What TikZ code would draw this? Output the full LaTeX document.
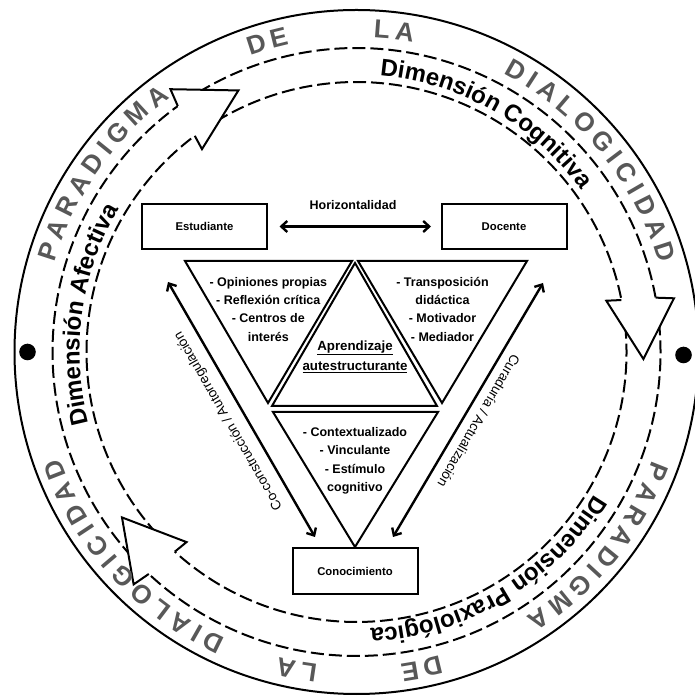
\documentclass[tikz,border=0pt]{standalone}
\usepackage{fontspec}
\setmainfont{Liberation Sans}
\usetikzlibrary{arrows.meta,decorations.text}
\definecolor{dgray}{RGB}{88,88,88}
\newcommand\dimfont{\bfseries\fontsize{24}{28}\selectfont}
\newcommand\grayfont{\bfseries\fontsize{26}{30}\selectfont}
\newcommand\boxfont{\bfseries\fontsize{11.3}{13.5}\selectfont}
\newcommand\trifont{\bfseries\fontsize{12.5}{18.3}\selectfont}
\newcommand\midfont{\bfseries\fontsize{13.3}{20}\selectfont}
\newcommand\sidefont{\fontsize{13.5}{16}\selectfont}
\tikzset{
 band/.style={line width=2pt, dash pattern=on 13pt off 5pt},
 blockarrow/.style={line width=2pt, fill=white, line join=miter},
 letter/.style={text=dgray, font=\grayfont, anchor=base, inner sep=0pt},
 box/.style={draw, line width=2pt, minimum width=125pt, minimum height=45pt, inner sep=0pt, font=\boxfont},
 tri/.style={line width=2pt, line join=miter},
 rel/.style={line width=2.4pt, {Straight Barb[length=6pt,width=11pt]}-{Straight Barb[length=6pt,width=11pt]}},
 bandtext/.style={decorate, decoration={text along path, text align=center, text={|\dimfont|#1}}},
}
\begin{document}
\begin{tikzpicture}[x=1pt,y=1pt]
\useasboundingbox (0,0) rectangle (695,696);
\fill[white] (0,0) rectangle (695,696);
\clip (0,0) rectangle (695,696);
\begin{scope}[shift={(356.5,344)}]
 % outer circle and dots
 \draw[line width=2pt] (0,0) circle[radius=342];
 \fill (-329,0) circle[radius=8.3];
 \fill (327,-3) circle[radius=8.3];
 % dashed band: Afectiva
 \draw[band] (222.2:304) arc[start angle=222.2, end angle=126.0, radius=304];
 \draw[band] (222.2:270) arc[start angle=222.2, end angle=126.8, radius=270];
 % Cognitiva
 \draw[band] (121.3:304) arc[start angle=121.3, end angle=10.3, radius=304];
 \draw[band] (121.3:270) arc[start angle=121.3, end angle=11.1, radius=270];
 % Praxiologica
 \draw[band] (5.6:304) arc[start angle=5.6, end angle=-133.1, radius=304];
 \draw[band] (5.6:270) arc[start angle=5.6, end angle=-132.3, radius=270];
 % block arrow heads
 \filldraw[blockarrow] (126.0:304) -- (125.3:322) -- (114.3:287) -- (127.3:255) -- (126.8:270);
 \filldraw[blockarrow] (10.3:304) -- (9.6:322) -- (-1.4:287) -- (11.6:255) -- (11.1:270);
 \filldraw[blockarrow] (-133.1:304) -- (-133.8:322) -- (-144.8:287) -- (-131.8:255) -- (-132.3:270);
 % band texts
 \path[bandtext=Dimensión Cognitiva] (95:277) arc[start angle=95, end angle=26, radius=277];
 \path[bandtext=Dimensión Afectiva] (206.5:277) arc[start angle=206.5, end angle=137.5, radius=277];
 \path[bandtext=Dimensión Praxiológica] (-24.5:277) arc[start angle=-24.5, end angle=-93.5, radius=277];
 % gray letters
 \foreach \a/\l [count=\i] in {162/P,157.71/A,153.29/R,148.87/A,144.45/D,141.04/I,137.51/G,132.71/M,128.04/A,
   108/D,103.9/E,85.5/L,81.4/A,
   60.5/D,57.1/I,53.7/A,49.53/L,45.23/O,40.56/G,37.03/I,33.62/C,30.22/I,26.82/D,22.4/A,17.98/D,
   -21.7/P,-25.99/A,-30.41/R,-34.83/A,-39.25/D,-42.66/I,-46.19/G,-50.99/M,-55.66/A,
   -76.4/D,-80.5/E,-98.5/L,-102.6/A,
   -116.2/D,-119.6/I,-123.0/A,-127.17/L,-131.47/O,-136.14/G,-139.67/I,-143.08/C,-146.48/I,-149.88/D,-154.3/A,-158.72/D}
   \node[letter, rotate=\a-90] (g\i) at (\a:315) {\l};
\end{scope}
% boxes
\node[box] (est) at (204.5,469.5) {Estudiante};
\node[box] (doc) at (504,469.5) {Docente};
\node[box, minimum height=46pt] (con) at (355,124.5) {Conocimiento};
% horizontal relation
\draw[rel, shorten <=11.5pt, shorten >=9.5pt] (est.east) -- (doc.west);
\node[font=\trifont] (hor) at (353,491) {Horizontalidad};
% triangles
\draw[tri] (185,435) -- (352,435) -- (268,293) -- cycle;
\draw[tri] (358,435) -- (527,435) -- (442,293) -- cycle;
\draw[tri] (355,433) -- (272,290) -- (437,290) -- cycle;
\draw[tri] (273,284) -- (438,284) -- (355,149) -- cycle;
\node[font=\trifont, align=center] (tl) at (268.3,386.8) {- Opiniones propias\\- Reflexión crítica\\- Centros de\\interés};
\node[font=\trifont, align=center] (tr) at (442.5,386.8) {- Transposición\\didáctica\\- Motivador\\- Mediador};
\node[font=\midfont, align=center] (tm) at (355,339.3) {\underline{Aprendizaje}\\\underline{autestructurante}};
\node[font=\trifont, align=center] (tb) at (355,235.2) {- Contextualizado\\- Vinculante\\- Estímulo\\cognitivo};
% side arrows
\coordinate (la1) at (168,414);
\coordinate (la2) at (315,159);
\coordinate (ra1) at (543,413);
\coordinate (ra2) at (393,159);
\draw[rel] (la1) -- (la2);
\draw[rel] (ra1) -- (ra2);
\node[font=\sidefont, rotate=120] (lt) at (228.5,275) {Co-construcción / Autorregulación};
\node[font=\sidefont, rotate=-120] (rt) at (479,275) {Curaduría / Actualización};
\end{tikzpicture}
\end{document}
